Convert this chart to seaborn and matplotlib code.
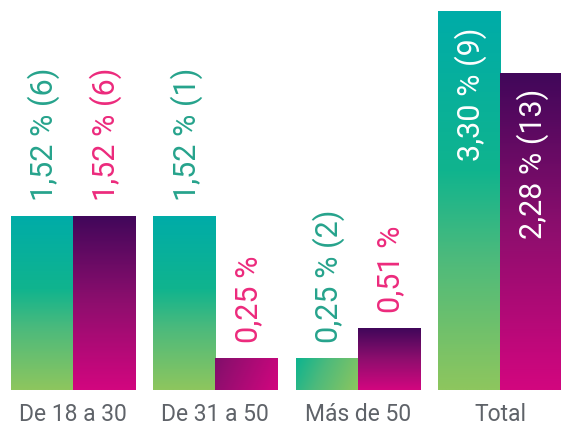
import numpy as np
import pandas as pd
import matplotlib
matplotlib.use("Agg")
import matplotlib.pyplot as plt
import seaborn as sns
from matplotlib.colors import LinearSegmentedColormap

# ---- data (bar heights; label texts as printed) ----
categories = ["De 18 a 30", "De 31 a 50", "Más de 50", "Total"]
series = ["Serie A", "Serie B"]
values_a = [1.52, 1.52, 0.28, 3.30]
values_b = [1.52, 0.28, 0.54, 2.76]
labels_a = ["1,52 % (6)", "1,52 % (1)", "0,25 % (2)", "3,30 % (9)"]
labels_b = ["1,52 % (6)", "0,25 %", "0,51 %", "2,28 % (13)"]
label_inside = [False, False, False, True]

df = pd.DataFrame({
    "categoria": categories * 2,
    "serie": [series[0]] * len(categories) + [series[1]] * len(categories),
    "valor": values_a + values_b,
})

sns.set_theme(style="white")
plt.rcParams["font.family"] = ["Roboto", "DejaVu Sans"]

W, H = 561, 427
fig = plt.figure(figsize=(W / 100, H / 100), dpi=100)
base_px = 391
ax = fig.add_axes([0, (H - base_px) / H, 1, base_px / H])

sns.barplot(data=df, x="categoria", y="valor", hue="serie", order=categories,
            hue_order=series, width=0.873, palette=["#00aca8", "#8e0e6e"],
            saturation=1, linewidth=0, legend=False, ax=ax)

xlim = (-0.513, 3.429)
ylim = (0, 3.406)
ax.set_xlim(*xlim)
ax.set_ylim(*ylim)
px_x = W / (xlim[1] - xlim[0])
px_y = base_px / (ylim[1] - ylim[0])

cmaps = [
    LinearSegmentedColormap.from_list("teal", [(0, "#00aca8"), (0.42, "#10b48e"),
                                                (0.65, "#4cba7c"), (1, "#8dc65e")]),
    LinearSegmentedColormap.from_list("mag", [(0, "#41075a"), (0.5, "#8e0e6e"),
                                               (1, "#d2067f")]),
]
text_colors = ["#26a38c", "#ec2a7c"]
label_sets = [labels_a, labels_b]

N = 120
u = np.linspace(0, 1, N)[None, :]
v = np.linspace(0, 1, N)[:, None]
for k, cont in enumerate(ax.containers):
    for i, bar in enumerate(cont):
        x0, y0 = bar.get_x(), bar.get_y()
        w, h = bar.get_width(), bar.get_height()
        wpx, hpx = w * px_x, h * px_y
        if hpx < 0.8 * wpx:
            t = 0.4 + 0.6 * (0.8 * u + 0.2 * v)
        else:
            t = v + 0 * u
        im = ax.imshow(t, cmap=cmaps[k], vmin=0, vmax=1, aspect="auto",
                       extent=(x0, x0 + w, y0, y0 + h), origin="upper",
                       interpolation="bilinear", zorder=3)
        im.set_clip_path(bar)
        cx = x0 + w / 2 + 2 / px_x
        txt = label_sets[k][i]
        if label_inside[i]:
            ax.text(cx, y0 + h - 15 / px_y, txt, rotation=90, ha="center",
                    va="top", color="white", fontsize=22, zorder=5)
        else:
            ax.text(cx, y0 + h + 16 / px_y, txt, rotation=90, ha="center",
                    va="bottom", color=text_colors[k], fontsize=22, zorder=5)

ax.set_xlabel("")
ax.set_ylabel("")
ax.set_yticks([])
ax.tick_params(axis="x", length=0, pad=9, labelsize=16.5, labelcolor="#5f6369")
sns.despine(ax=ax, left=True, bottom=True, top=True, right=True)
ax.set_facecolor("none")
fig.patch.set_facecolor("white")

fig.savefig("out.png", dpi=100)
